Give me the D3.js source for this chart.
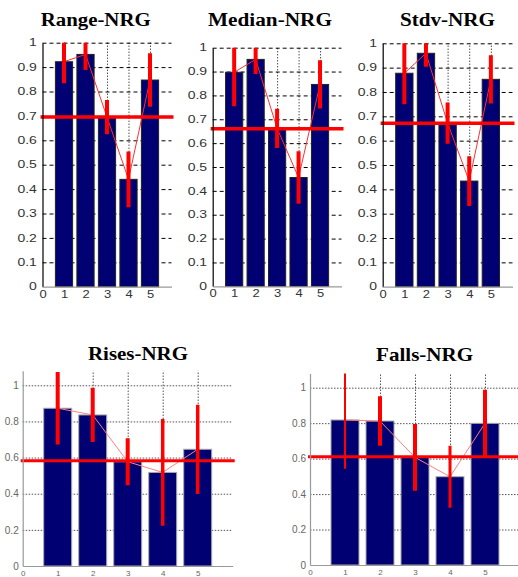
<!DOCTYPE html>
<html>
<head>
<meta charset="utf-8">
<script src="https://cdn.jsdelivr.net/npm/d3@7/dist/d3.min.js"></script>
<style>
  html, body { margin: 0; padding: 0; background: #fff; }
  svg { display: block; }
</style>
</head>
<body>
<svg id="chart" width="518" height="577"></svg>
<script>
// ---------- DATA ----------
const categories = [1, 2, 3, 4, 5];
const xTickValues = [0, 1, 2, 3, 4, 5];
const yTicksTop = [0, 0.1, 0.2, 0.3, 0.4, 0.5, 0.6, 0.7, 0.8, 0.9, 1];
const yTicksBottom = [0, 0.2, 0.4, 0.6, 0.8, 1];
const titles = ["Range-NRG", "Median-NRG", "Stdv-NRG", "Rises-NRG", "Falls-NRG"];

const rangeMeans = [0.922, 0.952, 0.695, 0.440, 0.847];
const rangeErrors = [0.088, 0.064, 0.070, 0.114, 0.110];
const rangeOverall = 0.695;

const medianMeans = [0.897, 0.951, 0.662, 0.456, 0.846];
const medianErrors = [0.142, 0.061, 0.082, 0.110, 0.101];
const medianOverall = 0.660;

const stdvMeans = [0.877, 0.959, 0.672, 0.434, 0.852];
const stdvErrors = [0.127, 0.055, 0.085, 0.102, 0.099];
const stdvOverall = 0.672;

const risesMeans = [0.873, 0.836, 0.577, 0.518, 0.646];
const risesErrors = [0.200, 0.150, 0.130, 0.295, 0.247];
const risesOverall = 0.583;

const fallsMeans = [0.818, 0.812, 0.607, 0.498, 0.799];
const fallsErrors = [0.275, 0.140, 0.188, 0.175, 0.190];
const fallsOverall = 0.611;

// ---------- LAYOUT / STYLE ----------
const svg = d3.select("#chart");
const topStyle = {
  yTicks: yTicksTop, ymax: 1, gridColor: "#000", hDash: "4,3", vDash: "1,2",
  labelColor: "#333", labelSize: 10, xLabelSize: 10, labelScale: 1.4, xLabelScale: 1.3,
  axisColor: "#000", barStroke: "#222", titleSize: 18, errW: [4, 4, 4, 4, 4],
  meanW: 3.5, lineColor: "#ff3030", xLabelDy: 11, yFmt: d => d3.format("")(d)
};
const botStyle = {
  yTicks: yTicksBottom, ymax: 1.08, gridColor: "#555", hDash: "1.5,1.5", vDash: "1.5,1.5",
  labelColor: "#666", labelSize: 10, xLabelSize: 8, labelScale: 1.0, xLabelScale: 1.0,
  axisColor: "#999", barStroke: "#aaa", titleSize: 19, meanW: 3,
  lineColor: "#ff8080", xLabelDy: 9.5, yFmt: d => d3.format("")(d)
};

const panels = [
  Object.assign({}, topStyle, { title: titles[0], means: rangeMeans, errs: rangeErrors, overall: rangeOverall,
    left: 42.5, right: 171.5, top: 42.7, bottom: 286.7, tx: 95.7, ty: 26, tw: 110 }),
  Object.assign({}, topStyle, { title: titles[1], means: medianMeans, errs: medianErrors, overall: medianOverall,
    left: 212.7, right: 341.5, top: 47.7, bottom: 286.3, tx: 270, ty: 26, tw: 124 }),
  Object.assign({}, topStyle, { title: titles[2], means: stdvMeans, errs: stdvErrors, overall: stdvOverall,
    left: 382.7, right: 512.5, top: 43.3, bottom: 286.7, tx: 447.5, ty: 26, tw: 95 }),
  Object.assign({}, botStyle, { title: titles[3], means: risesMeans, errs: risesErrors, overall: risesOverall,
    left: 22.7, right: 232.7, top: 385.3, bottom: 566, tx: 138, ty: 360, tw: 100, errW: [4, 4, 4, 3.5, 3.5] }),
  Object.assign({}, botStyle, { title: titles[4], means: fallsMeans, errs: fallsErrors, overall: fallsOverall,
    left: 310, right: 520, top: 387.7, bottom: 565, tx: 424.6, ty: 360.7, tw: 97, errW: [2, 4, 4, 3, 4] })
];

panels.forEach((p, pi) => {
  const g = svg.append("g");
  const x = d3.scaleLinear().domain([0, 6]).range([p.left, p.right]);
  const y = d3.scaleLinear().domain([0, 1]).range([p.bottom, p.top]);
  const yTopPx = y(p.ymax);

  // clip
  const clipId = "clip" + pi;
  svg.append("clipPath").attr("id", clipId).append("rect")
    .attr("x", p.left - 3).attr("y", yTopPx).attr("width", p.right - p.left + 6).attr("height", p.bottom - yTopPx);

  // horizontal grid
  g.append("g").attr("transform", `translate(${p.left},0)`)
    .call(d3.axisLeft(y).tickValues(p.yTicks.filter(v => v > 0)).tickSize(-(p.right - p.left)).tickFormat(""))
    .call(s => {
      s.select(".domain").remove();
      s.selectAll("line").attr("stroke", p.gridColor).attr("stroke-dasharray", p.hDash).attr("stroke-width", 1);
    });
  // vertical grid
  g.append("g").attr("transform", `translate(0,${p.bottom})`)
    .call(d3.axisBottom(x).tickValues(categories).tickSize(-(p.bottom - yTopPx)).tickFormat(""))
    .call(s => {
      s.select(".domain").remove();
      s.selectAll("line").attr("stroke", p.gridColor).attr("stroke-dasharray", p.vDash).attr("stroke-width", 1);
    });

  // bars
  const bw = (x(1) - x(0)) * 0.8;
  g.append("g").selectAll("rect").data(p.means).join("rect")
    .attr("x", (d, i) => x(categories[i]) - bw / 2)
    .attr("y", d => y(d))
    .attr("width", bw)
    .attr("height", d => p.bottom - y(d))
    .attr("fill", "#000072")
    .attr("stroke", p.barStroke)
    .attr("stroke-width", 1);

  const marks = g.append("g").attr("clip-path", `url(#${clipId})`);

  // connecting line
  marks.append("path")
    .datum(p.means.map((m, i) => [categories[i], m]))
    .attr("fill", "none")
    .attr("stroke", p.lineColor)
    .attr("stroke-width", 1)
    .attr("d", d3.line().x(d => x(d[0])).y(d => y(d[1])));

  // error bars
  marks.append("g").selectAll("line").data(p.means).join("line")
    .attr("x1", (d, i) => x(categories[i]))
    .attr("x2", (d, i) => x(categories[i]))
    .attr("y1", (d, i) => y(d + p.errs[i]))
    .attr("y2", (d, i) => y(d - p.errs[i]))
    .attr("stroke", "#ff0000")
    .attr("stroke-width", (d, i) => p.errW[i]);

  // overall mean line
  g.append("line")
    .attr("x1", p.left - 2).attr("x2", p.right + 2)
    .attr("y1", y(p.overall)).attr("y2", y(p.overall))
    .attr("stroke", "#ff0000").attr("stroke-width", p.meanW);

  // y axis
  const ya = g.append("g").attr("transform", `translate(${p.left},0)`)
    .call(d3.axisLeft(d3.scaleLinear().domain([0, p.ymax]).range([p.bottom, yTopPx]))
      .tickValues(p.yTicks).tickSize(0).tickPadding(4).tickFormat(p.yFmt));
  ya.select(".domain").attr("stroke", p.axisColor).attr("stroke-width", 1.2);
  ya.selectAll("text")
    .attr("font-family", "Liberation Sans, Arial, sans-serif")
    .attr("font-size", p.labelSize)
    .attr("fill", p.labelColor)
    .attr("transform", `scale(${p.labelScale},1)`);

  // x axis
  const xa = g.append("g").attr("transform", `translate(0,${p.bottom})`)
    .call(d3.axisBottom(x).tickValues(xTickValues).tickSize(0).tickPadding(0).tickFormat(d3.format("d")));
  xa.select(".domain").attr("stroke", "#999").attr("stroke-width", 1.2);
  xa.selectAll("text")
    .attr("font-family", "Liberation Sans, Arial, sans-serif")
    .attr("font-size", p.xLabelSize)
    .attr("fill", p.labelColor)
    .attr("dy", null)
    .attr("y", p.xLabelDy)
    .attr("transform", `scale(${p.xLabelScale},1)`);

  // title
  g.append("text")
    .attr("x", p.tx).attr("y", p.ty)
    .attr("text-anchor", "middle")
    .attr("font-family", "Liberation Serif, 'Times New Roman', serif")
    .attr("font-weight", "bold")
    .attr("font-size", p.titleSize)
    .attr("textLength", p.tw)
    .attr("lengthAdjust", "spacingAndGlyphs")
    .text(p.title);
});
</script>
</body>
</html>
